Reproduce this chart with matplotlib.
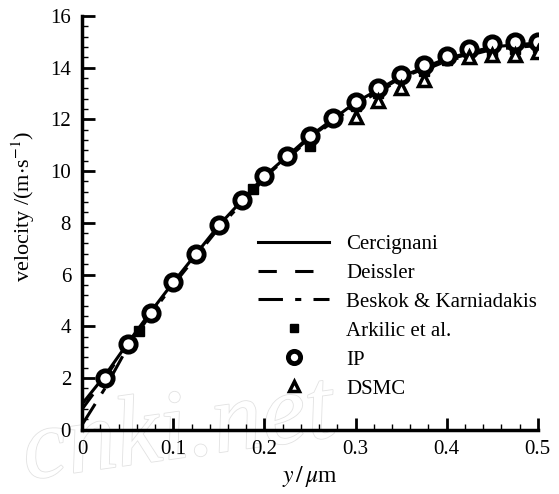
import numpy as np
import matplotlib
matplotlib.use("Agg")
import matplotlib.pyplot as plt
from matplotlib.ticker import MultipleLocator, AutoMinorLocator, FuncFormatter
import matplotlib.patheffects as pe

plt.rcParams['font.family'] = ['Liberation Serif', 'DejaVu Serif']
plt.rcParams['mathtext.fontset'] = 'stix'

# model curves
x_line = [0.0, 0.025, 0.05, 0.075, 0.1, 0.15, 0.2, 0.25, 0.3, 0.35, 0.4, 0.45, 0.5]
v_cercignani = [1.0, 2.1, 3.35, 4.55, 5.7, 7.9, 9.8, 11.35, 12.65, 13.65, 14.35, 14.8, 14.95]
v_deissler = [0.8, 2.0, 3.3, 4.5, 5.65, 7.85, 9.75, 11.3, 12.6, 13.6, 14.3, 14.75, 14.9]
v_beskok = [0.2, 1.6, 3.2, 4.45, 5.6, 7.8, 9.7, 11.25, 12.55, 13.55, 14.25, 14.7, 14.85]

# IP
x_ip = [0.025, 0.05, 0.075, 0.1, 0.125, 0.15, 0.175, 0.2, 0.225, 0.25,
        0.275, 0.3, 0.325, 0.35, 0.375, 0.4, 0.425, 0.45, 0.475, 0.5]
v_ip = [2.0, 3.3, 4.5, 5.7, 6.8, 7.9, 8.9, 9.8, 10.6, 11.35,
        12.05, 12.65, 13.2, 13.7, 14.1, 14.45, 14.7, 14.9, 15.0, 15.0]

# Arkilic et al.
x_ark = [0.0625, 0.1875, 0.25, 0.3, 0.325, 0.375, 0.4, 0.45, 0.475, 0.5]
v_ark = [3.8, 9.3, 10.95, 12.5, 13.0, 13.85, 14.3, 14.6, 14.7, 14.8]

# DSMC
x_dsmc = [0.3, 0.325, 0.35, 0.375, 0.425, 0.45, 0.475, 0.5]
v_dsmc = [12.1, 12.7, 13.2, 13.5, 14.4, 14.5, 14.5, 14.6]

fig = plt.figure(figsize=(5.59, 4.94), dpi=100)
ax = fig.add_axes([0.147, 0.13, 0.815, 0.838])
ax.patch.set_alpha(0)

# faint watermark, behind the axes
fig.text(0.03, 0.03, "cnki.net", fontsize=72, style='italic', color='white',
         rotation=8, zorder=-1,
         path_effects=[pe.withStroke(linewidth=1.2, foreground='#e2e2e2')])

lw = 2.2
ax.plot(x_line, v_cercignani, color='black', lw=lw, ls='-', label='Cercignani')
ax.plot(x_line, v_deissler, color='black', lw=lw, ls=(0, (6, 6)), label='Deissler')
ax.plot(x_line, v_beskok, color='black', lw=lw, ls=(0, (8, 4, 2, 4)),
        label='Beskok & Karniadakis')
ax.plot(x_ark, v_ark, ls='none', marker='s', ms=7, color='black',
        label='Arkilic et al.')
ax.plot(x_ip, v_ip, ls='none', marker='o', ms=11, mfc='white', mec='black',
        mew=3.5, label='IP')
ax.plot(x_dsmc, v_dsmc, ls='none', marker='^', ms=9, mfc='white', mec='black',
        mew=2.5, label='DSMC')

ax.set_xlim(0, 0.5)
ax.set_ylim(0, 16)
ax.xaxis.set_major_locator(MultipleLocator(0.1))
ax.yaxis.set_major_locator(MultipleLocator(2))
ax.xaxis.set_minor_locator(AutoMinorLocator(5))
ax.yaxis.set_minor_locator(AutoMinorLocator(5))
ax.xaxis.set_major_formatter(FuncFormatter(lambda v, p: "0" if v == 0 else f"{v:.1f}"))
ax.tick_params(which='major', direction='in', length=9, width=2, labelsize=15)
ax.tick_params(which='minor', direction='in', length=4, width=1)
ax.tick_params(axis='x', pad=7)
ax.tick_params(axis='y', pad=8)

for s in ['top', 'right']:
    ax.spines[s].set_visible(False)
for s in ['left', 'bottom']:
    ax.spines[s].set_linewidth(2.5)

ax.set_xlabel(r"$y\,/\,\mu$m", fontsize=17, labelpad=4)
ax.set_ylabel(r"velocity /(m$\cdot$s$^{-1}$)", fontsize=16)
ax.yaxis.set_label_coords(-0.1, 0.54)

ax.legend(loc='lower right', bbox_to_anchor=(1.03, 0.04), frameon=False,
          fontsize=15, handlelength=3.4, labelspacing=0.45, handletextpad=0.8,
          markerscale=0.8, borderpad=0.2)

fig.savefig("out.png", dpi=100)
